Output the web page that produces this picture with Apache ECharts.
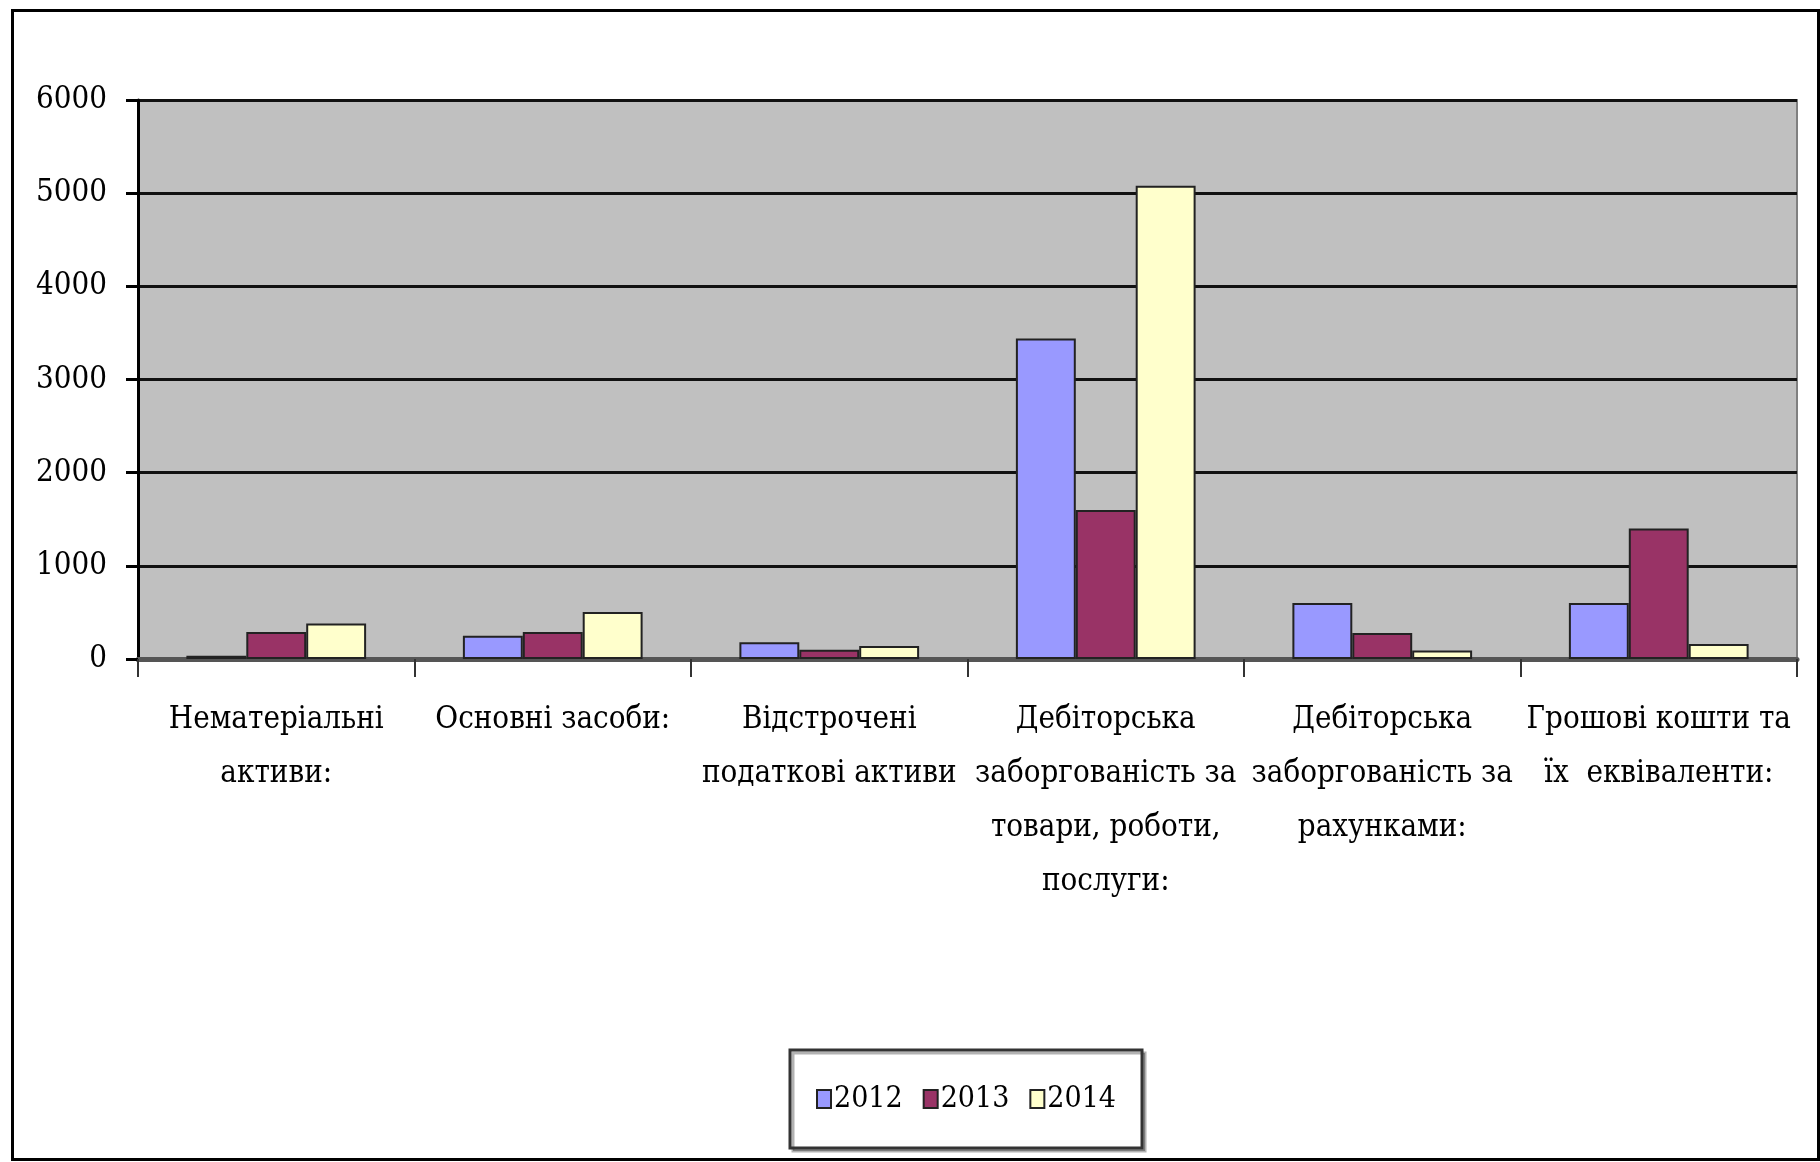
<!DOCTYPE html>
<html>
<head>
<meta charset="utf-8">
<script src="https://cdn.jsdelivr.net/npm/echarts@6/dist/echarts.min.js"></script>
<style>
html,body{margin:0;padding:0;background:#fff;}
#chart{width:1820px;height:1162px;}
</style>
</head>
<body>
<div id="chart"></div>
<script>
const categories = [
  "Нематеріальні\nактиви:",
  "Основні засоби:",
  "Відстрочені\nподаткові активи",
  "Дебіторська\nзаборгованість за\nтовари, роботи,\nпослуги:",
  "Дебіторська\nзаборгованість за\nрахунками:",
  "Грошові кошти та\nїх  еквіваленти:"
];
const seriesNames = ["2012", "2013", "2014"];
const values2012 = [35, 250, 180, 3440, 600, 600];
const values2013 = [290, 290, 100, 1600, 280, 1400];
const values2014 = [380, 505, 140, 5080, 90, 160];
const yTicks = [0, 1000, 2000, 3000, 4000, 5000, 6000];

const colors = ["#9999FF", "#993366", "#FFFFCC"];
const FONT = "DejaVu Serif Condensed";

const chart = echarts.init(document.getElementById("chart"), null, {renderer: "canvas"});
const allValues = [values2012, values2013, values2014];

const option = {
  backgroundColor: "#ffffff",
  animation: false,
  textStyle: {fontFamily: FONT, color: "#000"},
  graphic: [{
    type: "rect",
    left: 10, top: 8,
    shape: {width: 1806, height: 1149},
    style: {fill: "none", stroke: "#000", lineWidth: 3},
    silent: true
  }],
  grid: {
    left: 138, right: 23, top: 100, bottom: 503,
    show: true,
    backgroundColor: "#C0C0C0",
    borderColor: "#808080",
    borderWidth: 2
  },
  legend: {
    data: seriesNames,
    left: 790, top: 1050,
    orient: "horizontal",
    padding: [34, 26],
    itemGap: 20,
    itemWidth: 14,
    itemHeight: 18,
    borderColor: "#333",
    borderWidth: 3,
    backgroundColor: "#fff",
    shadowColor: "rgba(0,0,0,0.3)",
    shadowOffsetX: 3,
    shadowOffsetY: 3,
    textStyle: {fontFamily: FONT, fontSize: 30, color: "#000", padding: [0, 0, 0, -2]},
    icon: "rect"
  },
  xAxis: {
    type: "category",
    data: categories,
    axisLine: {show: true, lineStyle: {color: "#555", width: 5}},
    axisTick: {show: true, alignWithLabel: false, length: 18, lineStyle: {color: "#333", width: 2}},
    axisLabel: {
      interval: 0,
      fontFamily: FONT,
      fontSize: 31,
      lineHeight: 54,
      color: "#000",
      margin: 34,
      align: "center"
    },
    splitLine: {show: false}
  },
  yAxis: {
    type: "value",
    min: yTicks[0],
    max: yTicks[yTicks.length - 1],
    interval: 1000,
    axisLine: {show: true, lineStyle: {color: "#000", width: 3}},
    axisTick: {show: true, length: 12, lineStyle: {color: "#000", width: 3}},
    axisLabel: {fontFamily: FONT, fontSize: 31, color: "#000", margin: 31,
      formatter: function (v) { return String(v); }},
    splitLine: {show: true, lineStyle: {color: "#111", width: 3}}
  },
  series: seriesNames.map((name, i) => ({
    name: name,
    type: "bar",
    data: allValues[i],
    barGap: "0%",
    barCategoryGap: "35%",
    itemStyle: {color: colors[i], borderColor: "#222", borderWidth: 2}
  }))
};
chart.setOption(option);
</script>
</body>
</html>
